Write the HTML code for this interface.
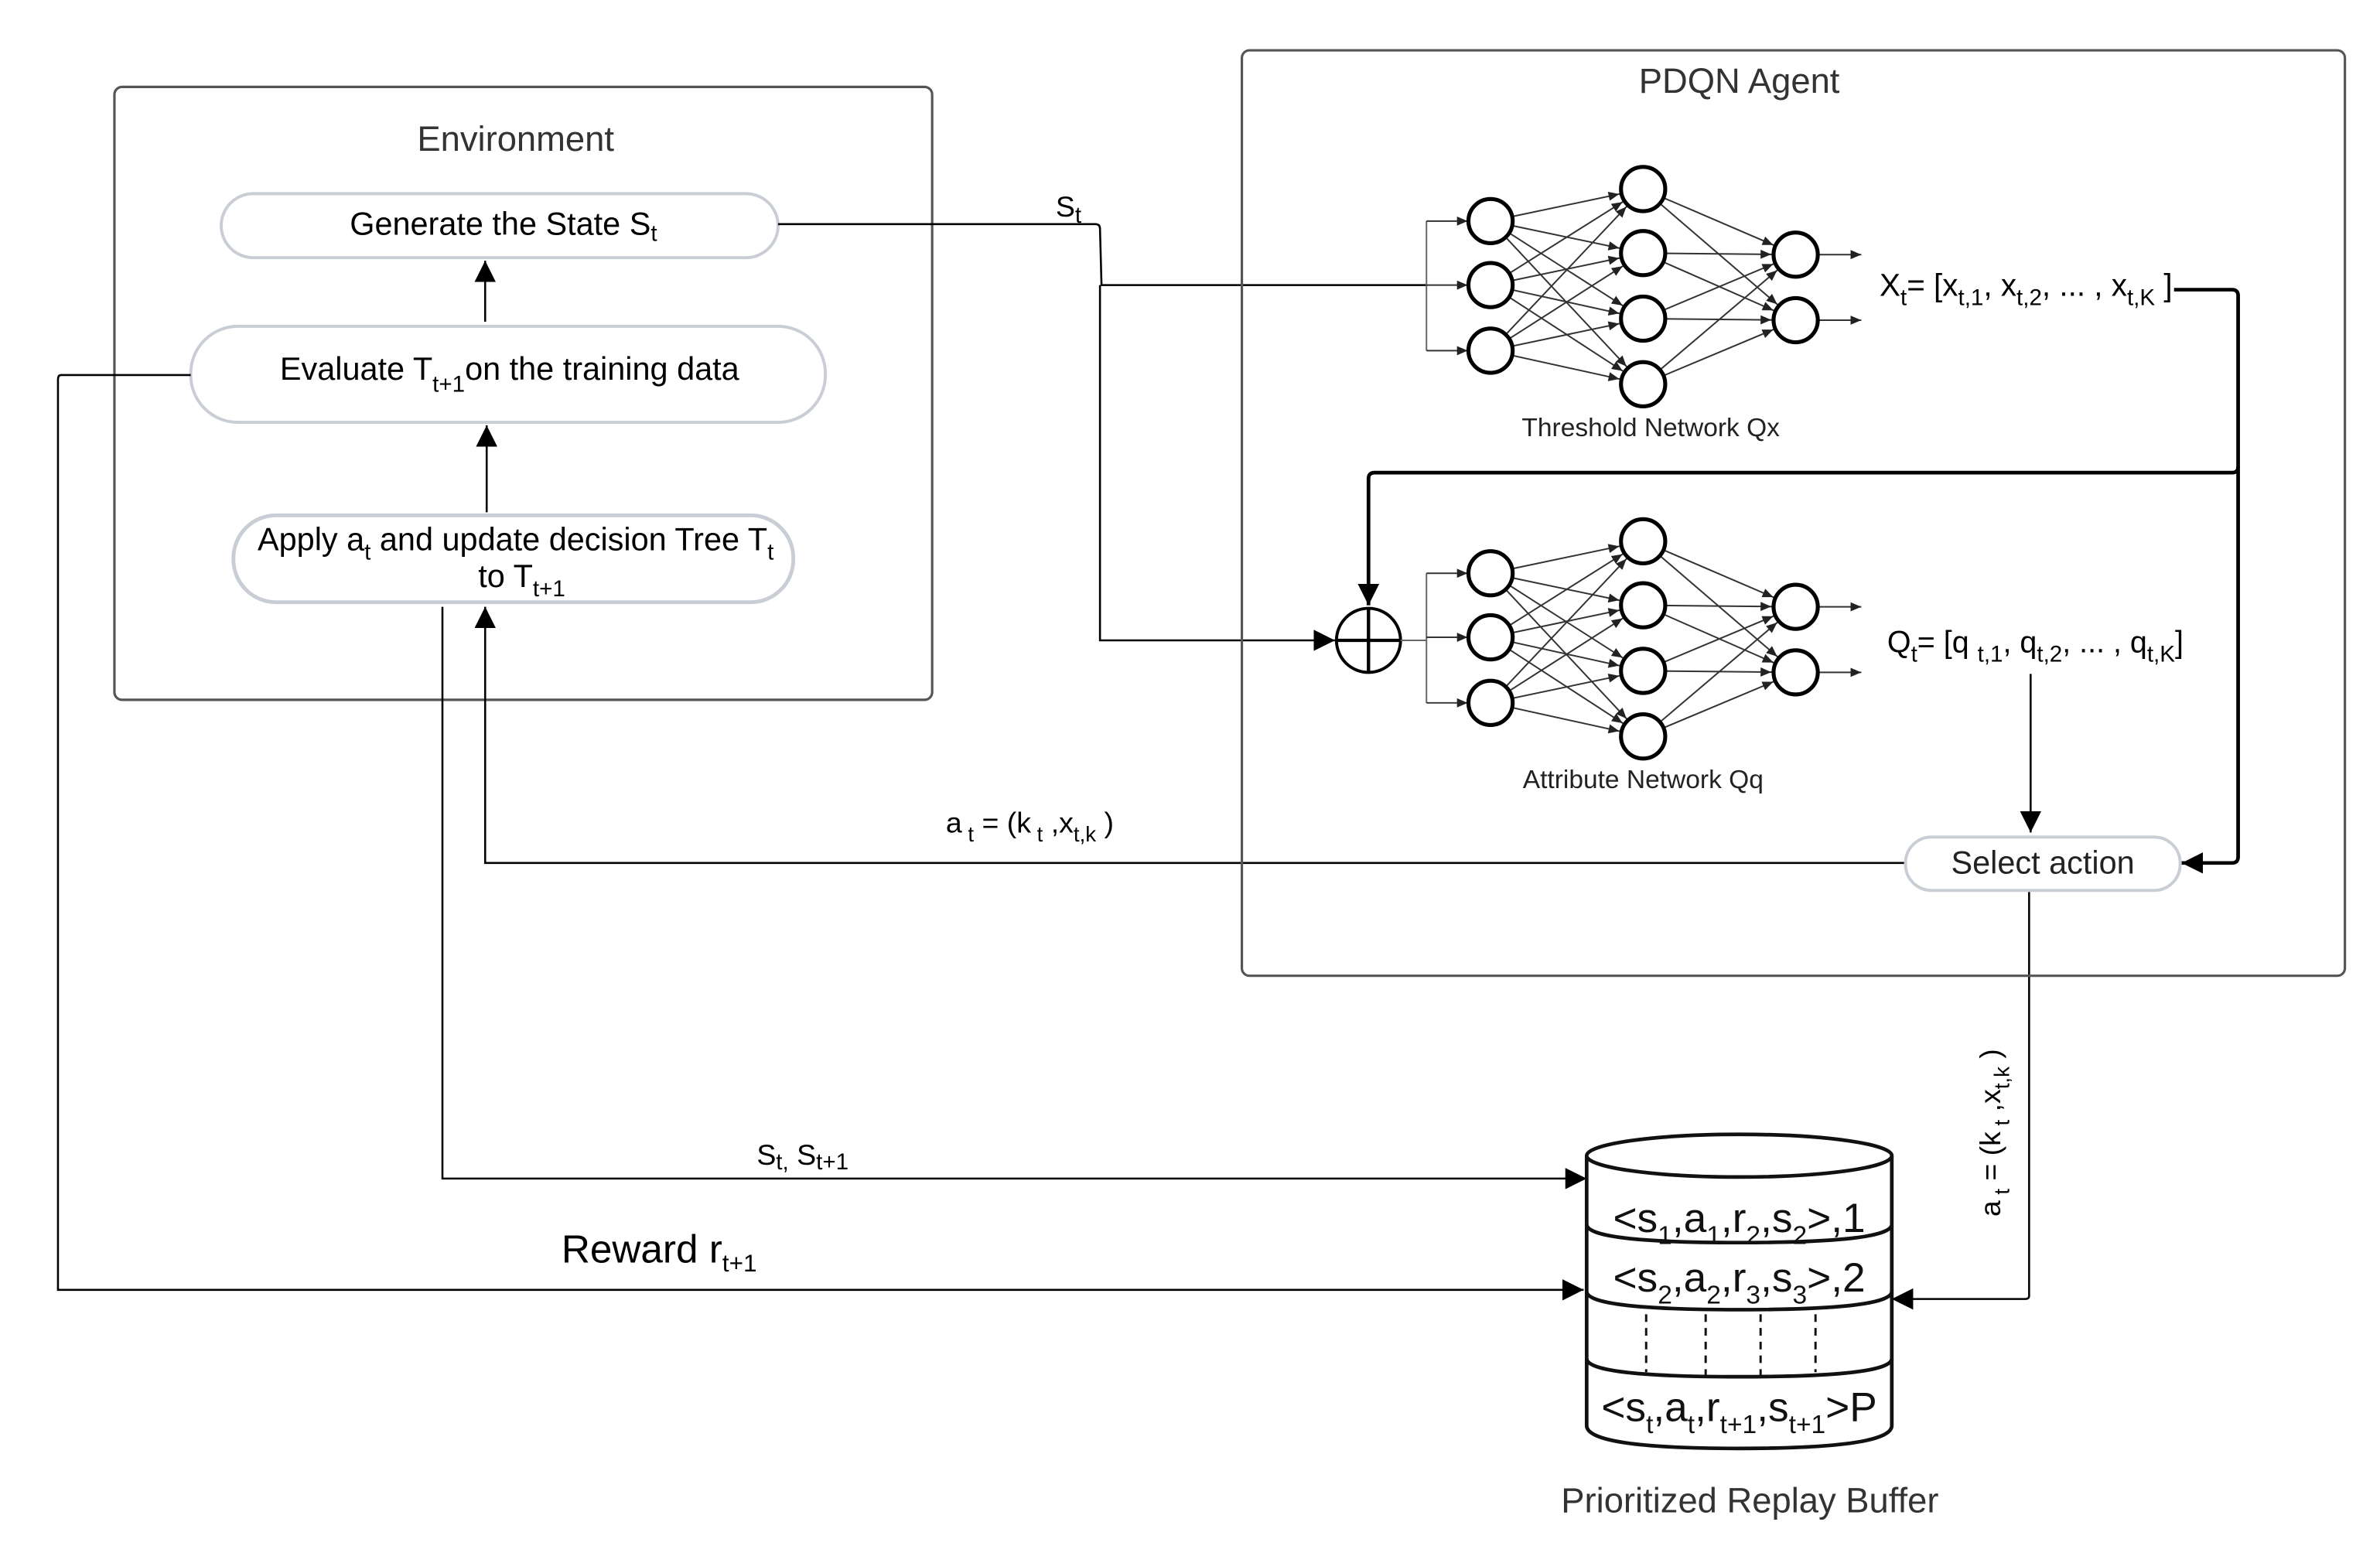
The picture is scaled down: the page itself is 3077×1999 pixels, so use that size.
<!DOCTYPE html>
<html><head><meta charset="utf-8"><style>
html,body{margin:0;padding:0;background:#fff;}
svg{display:block;}
text{font-family:"Liberation Sans",Arial,sans-serif;}
</style></head><body>
<svg width="3077" height="1999" viewBox="0 0 1560 1014" preserveAspectRatio="none" xmlns="http://www.w3.org/2000/svg">
<defs>
<marker id="ah" markerUnits="userSpaceOnUse" markerWidth="14" markerHeight="14" viewBox="-12 -6 12 12" refX="0" refY="0" orient="auto">
<path d="M-12,-6 L0,0 L-12,6 Z" fill="#000"/>
</marker>
<marker id="sm" markerUnits="userSpaceOnUse" markerWidth="30" markerHeight="10" viewBox="-30 -5 30 10" refX="0" refY="0" orient="auto">
<path d="M-23,-3 L-16,0 L-23,3 Z" fill="#222"/>
</marker>
<marker id="sm0" markerUnits="userSpaceOnUse" markerWidth="10" markerHeight="10" viewBox="-8 -5 10 10" refX="0" refY="0" orient="auto">
<path d="M-7,-3 L0,0 L-7,3 Z" fill="#222"/>
</marker>
<g id="net" stroke="#333" stroke-width="1" fill="none">
<path d="M935,145 V230 M935,187 H936" stroke="#666"/>
<line x1="935" y1="145" x2="962" y2="145" marker-end="url(#sm0)"/>
<line x1="935" y1="187" x2="962" y2="187" marker-end="url(#sm0)"/>
<line x1="935" y1="230" x2="962" y2="230" marker-end="url(#sm0)"/>
<line x1="977" y1="145" x2="1077" y2="124" marker-end="url(#sm)"/>
<line x1="977" y1="145" x2="1077" y2="166" marker-end="url(#sm)"/>
<line x1="977" y1="145" x2="1077" y2="209" marker-end="url(#sm)"/>
<line x1="977" y1="145" x2="1077" y2="252" marker-end="url(#sm)"/>
<line x1="977" y1="187" x2="1077" y2="124" marker-end="url(#sm)"/>
<line x1="977" y1="187" x2="1077" y2="166" marker-end="url(#sm)"/>
<line x1="977" y1="187" x2="1077" y2="209" marker-end="url(#sm)"/>
<line x1="977" y1="187" x2="1077" y2="252" marker-end="url(#sm)"/>
<line x1="977" y1="230" x2="1077" y2="124" marker-end="url(#sm)"/>
<line x1="977" y1="230" x2="1077" y2="166" marker-end="url(#sm)"/>
<line x1="977" y1="230" x2="1077" y2="209" marker-end="url(#sm)"/>
<line x1="977" y1="230" x2="1077" y2="252" marker-end="url(#sm)"/>
<line x1="1077" y1="124" x2="1177" y2="167" marker-end="url(#sm)"/>
<line x1="1077" y1="124" x2="1177" y2="210" marker-end="url(#sm)"/>
<line x1="1077" y1="166" x2="1177" y2="167" marker-end="url(#sm)"/>
<line x1="1077" y1="166" x2="1177" y2="210" marker-end="url(#sm)"/>
<line x1="1077" y1="209" x2="1177" y2="167" marker-end="url(#sm)"/>
<line x1="1077" y1="209" x2="1177" y2="210" marker-end="url(#sm)"/>
<line x1="1077" y1="252" x2="1177" y2="167" marker-end="url(#sm)"/>
<line x1="1077" y1="252" x2="1177" y2="210" marker-end="url(#sm)"/>
<line x1="1192" y1="167" x2="1220" y2="167" marker-end="url(#sm0)"/>
<line x1="1192" y1="210" x2="1220" y2="210" marker-end="url(#sm0)"/>
<g fill="#fff" stroke="#000" stroke-width="2.6">
<circle cx="977" cy="145" r="14.5"/><circle cx="977" cy="187" r="14.5"/><circle cx="977" cy="230" r="14.5"/>
<circle cx="1077" cy="124" r="14.5"/><circle cx="1077" cy="166" r="14.5"/><circle cx="1077" cy="209" r="14.5"/><circle cx="1077" cy="252" r="14.5"/>
<circle cx="1177" cy="167" r="14.5"/><circle cx="1177" cy="210" r="14.5"/>
</g>
</g>
</defs>

<!-- Environment -->
<rect x="75" y="57" width="536" height="402" rx="5" fill="none" stroke="#555" stroke-width="1.6"/>
<text x="338" y="99" font-size="23" fill="#333" text-anchor="middle">Environment</text>
<rect x="145" y="127" width="365" height="42" rx="21" fill="#fff" stroke="#c9cdd5" stroke-width="2"/>
<text x="330" y="154" font-size="21" text-anchor="middle">Generate the State S<tspan font-size="15" dy="4">t</tspan></text>
<rect x="125" y="214" width="416" height="63" rx="31" fill="#fff" stroke="#c9cdd5" stroke-width="2"/>
<text x="334" y="249" font-size="21" text-anchor="middle">Evaluate T<tspan font-size="15" dy="8">t+1</tspan><tspan dy="-8">on the training data</tspan></text>
<rect x="153" y="338" width="367" height="57" rx="28" fill="#fff" stroke="#c9cdd5" stroke-width="2.5"/>
<text x="338" y="361" font-size="21" text-anchor="middle">Apply a<tspan font-size="15" dy="6">t</tspan><tspan dy="-6"> and update decision Tree T</tspan><tspan font-size="15" dy="6">t</tspan></text>
<text x="342" y="385" font-size="21" text-anchor="middle">to T<tspan font-size="15" dy="6">t+1</tspan></text>

<g stroke="#000" stroke-width="1.3" fill="none">
<line x1="318" y1="211" x2="318" y2="171" marker-end="url(#ah)"/>
<line x1="319" y1="336" x2="319" y2="279" marker-end="url(#ah)"/>
<path d="M1249,566 H318 V398" marker-end="url(#ah)"/>
<path d="M290,398 V773 H1040" marker-end="url(#ah)"/>
<path d="M125,246 H40 Q38,246 38,249 V846 H1038" marker-end="url(#ah)"/>
<path d="M510,147 H718 Q721,147 721,150 L722,187 H935"/>
<path d="M721,187 V420 H875" marker-end="url(#ah)"/>
<path d="M1331,442 V546" marker-end="url(#ah)"/>
<path d="M1330,585 V850 Q1330,852 1327,852 H1240" marker-end="url(#ah)"/>
</g>
<g stroke="#000" stroke-width="2.4" fill="none">
<path d="M1425,190 H1463 Q1467,190 1467,194 V562 Q1467,566 1463,566 H1430" marker-end="url(#ah)"/>
<path d="M1467,306 Q1467,310 1463,310 H901 Q897,310 897,314 V397" marker-end="url(#ah)"/>
</g>

<text x="692" y="142" font-size="19">S<tspan font-size="15" dy="4">t</tspan></text>

<!-- Agent -->
<rect x="814" y="33" width="723" height="607" rx="5" fill="none" stroke="#555" stroke-width="1.6"/>
<text x="1140" y="61" font-size="23" fill="#333" text-anchor="middle">PDQN Agent</text>
<use href="#net"/>
<use href="#net" transform="translate(0,231)"/>
<circle cx="897" cy="420" r="21" fill="#fff" stroke="#000" stroke-width="2"/>
<path d="M876,420 H918 M897,399 V441" stroke="#000" stroke-width="2.2"/>
<line x1="918" y1="420" x2="935" y2="420" stroke="#666" stroke-width="1"/>
<text x="1082" y="286" font-size="17" fill="#222" text-anchor="middle">Threshold Network Qx</text>
<text x="1077" y="517" font-size="17" fill="#222" text-anchor="middle">Attribute Network Qq</text>
<text x="1232" y="194" font-size="20.5">X<tspan font-size="15" dy="6">t</tspan><tspan dy="-6">= [x</tspan><tspan font-size="15" dy="6">t,1</tspan><tspan dy="-6">, x</tspan><tspan font-size="15" dy="6">t,2</tspan><tspan dy="-6">, ... , x</tspan><tspan font-size="15" dy="6">t,K</tspan><tspan dy="-6"> ]</tspan></text>
<text x="1237" y="428" font-size="20">Q<tspan font-size="15" dy="6">t</tspan><tspan dy="-6">= [q </tspan><tspan font-size="15" dy="6">t,1</tspan><tspan dy="-6">, q</tspan><tspan font-size="15" dy="6">t,2</tspan><tspan dy="-6">, ... , q</tspan><tspan font-size="15" dy="6">t,K</tspan><tspan dy="-6">]</tspan></text>
<rect x="1249" y="549" width="180" height="35" rx="17" fill="#fff" stroke="#c9cdd5" stroke-width="2"/>
<text x="1339" y="573" font-size="21" fill="#222" text-anchor="middle">Select action</text>

<text x="620" y="546" font-size="19">a<tspan font-size="14" dy="6"> t</tspan><tspan dy="-6"> = (k</tspan><tspan font-size="14" dy="6"> t</tspan><tspan dy="-6"> ,x</tspan><tspan font-size="14" dy="6">t,k</tspan><tspan dy="-6"> )</tspan></text>
<text transform="translate(1311,798) rotate(-90)" font-size="19">a<tspan font-size="14" dy="6"> t</tspan><tspan dy="-6"> = (k</tspan><tspan font-size="14" dy="6"> t</tspan><tspan dy="-6"> ,x</tspan><tspan font-size="14" dy="6">t,k</tspan><tspan dy="-6"> )</tspan></text>
<text x="496" y="764" font-size="19">S<tspan font-size="15" dy="3">t,</tspan><tspan dy="-3"> S</tspan><tspan font-size="15" dy="3">t+1</tspan></text>
<text x="368" y="828" font-size="26">Reward  r<tspan font-size="16" dy="6">t+1</tspan></text>

<!-- Cylinder -->
<g stroke="#111" stroke-width="2.4" fill="#fff">
<path d="M1040,758 V935 Q1040,950 1140,950 Q1240,950 1240,935 V758"/>
<ellipse cx="1140" cy="758" rx="100" ry="14"/>
<path d="M1040,803 Q1040,815 1140,815 Q1240,815 1240,803" fill="none"/>
<path d="M1040,847 Q1040,859 1140,859 Q1240,859 1240,847" fill="none"/>
<path d="M1040,891 Q1040,903 1140,903 Q1240,903 1240,891" fill="none"/>
</g>
<g stroke="#111" stroke-width="1.5" stroke-dasharray="5,4">
<line x1="1079" y1="862" x2="1079" y2="900"/><line x1="1118" y1="862" x2="1118" y2="902"/>
<line x1="1154" y1="862" x2="1154" y2="902"/><line x1="1190" y1="862" x2="1190" y2="900"/>
</g>
<g font-family="'DejaVu Sans',sans-serif" fill="#111">
<text x="1140" y="808" font-size="27" text-anchor="middle">&lt;s<tspan font-size="17" dy="8">1</tspan><tspan dy="-8">,a</tspan><tspan font-size="17" dy="8">1</tspan><tspan dy="-8">,r</tspan><tspan font-size="17" dy="8">2</tspan><tspan dy="-8">,s</tspan><tspan font-size="17" dy="8">2</tspan><tspan dy="-8">&gt;,1</tspan></text>
<text x="1140" y="847" font-size="27" text-anchor="middle">&lt;s<tspan font-size="17" dy="8">2</tspan><tspan dy="-8">,a</tspan><tspan font-size="17" dy="8">2</tspan><tspan dy="-8">,r</tspan><tspan font-size="17" dy="8">3</tspan><tspan dy="-8">,s</tspan><tspan font-size="17" dy="8">3</tspan><tspan dy="-8">&gt;,2</tspan></text>
<text x="1140" y="932" font-size="27" text-anchor="middle">&lt;s<tspan font-size="17" dy="8">t</tspan><tspan dy="-8">,a</tspan><tspan font-size="17" dy="8">t</tspan><tspan dy="-8">,r</tspan><tspan font-size="17" dy="8">t+1</tspan><tspan dy="-8">,s</tspan><tspan font-size="17" dy="8">t+1</tspan><tspan dy="-8">&gt;P</tspan></text>
</g>
<text x="1147" y="992" font-size="23" fill="#333" text-anchor="middle">Prioritized Replay Buffer</text>
</svg>
</body></html>
